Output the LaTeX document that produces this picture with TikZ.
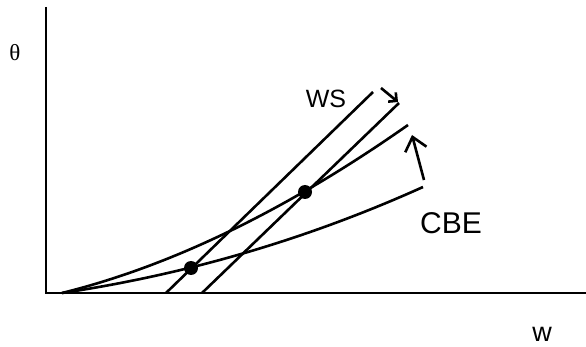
\documentclass[tikz,border=0pt]{standalone}
\usepackage{fontspec}
\setmainfont{Liberation Sans}
\newfontfamily\thetafont{Liberation Serif}
\usetikzlibrary{arrows.meta}
\begin{document}
\begin{tikzpicture}[x=1pt,y=-1pt,line width=2.6pt,
  dot/.style={circle,fill=black,inner sep=0pt,minimum size=14pt},
  lbl/.style={inner sep=0pt,font=\fontsize{25}{28}\selectfont},
  bigarrow/.style={-{Straight Barb[length=13pt,width=22pt,line width=2.6pt]}},
  smallarrow/.style={-{Straight Barb[length=6pt,width=12pt,line width=2.6pt]}}]
\useasboundingbox (0,0) rectangle (586,347);
% axes
\coordinate (ytop) at (46,7);
\coordinate (O) at (46,293);
\coordinate (xend) at (586,293);
\draw (ytop) -- (O) -- (xend);
% WS lines
\coordinate (a1) at (166,293);
\coordinate (b1) at (373,92);
\coordinate (a2) at (202,293);
\coordinate (b2) at (399,103);
\draw (a1) -- (b1);
\draw (a2) -- (b2);
% CBE curves
\coordinate (c0) at (62,293);
\coordinate (e1) at (423,187);
\coordinate (e2) at (408,125);
\draw (c0) .. controls (187.3,274.3) and (307.7,239) .. (e1);
\draw (c0) .. controls (172,265.7) and (287.3,209.7) .. (e2);
% dots
\node[dot] (d1) at (191,268) {};
\node[dot] (d2) at (305,192) {};
% arrows
\coordinate (s1) at (381,88);
\coordinate (t1) at (398,102);
\draw[smallarrow] (s1) -- (t1);
\coordinate (s2) at (424,180);
\coordinate (t2) at (412,135);
\draw[bigarrow] (s2) -- (t2);
% labels
\node[lbl,font=\fontsize{23}{26}\selectfont] (theta) at (15,53) {\thetafont θ};
\node[lbl] (ws) at (326,99) {WS};
\node[lbl,font=\fontsize{30}{34}\selectfont] (cbe) at (451,223) {CBE};
\node[lbl,font=\fontsize{27}{30}\selectfont] (w) at (542,334) {w};
\end{tikzpicture}
\end{document}
